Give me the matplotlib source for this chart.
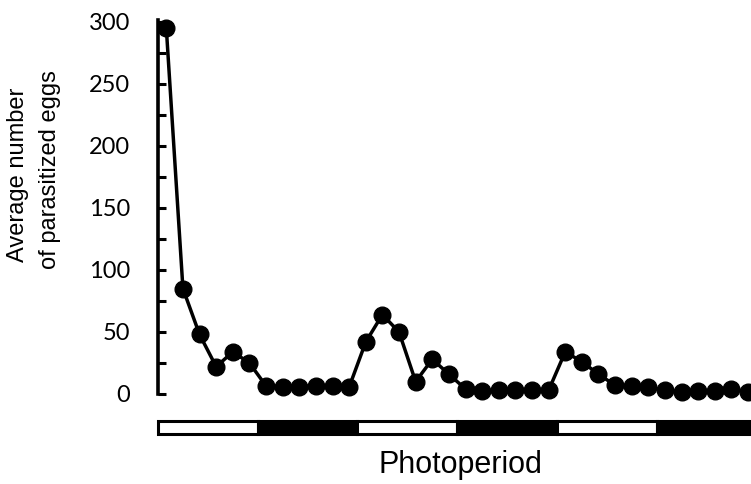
import matplotlib
matplotlib.use("Agg")
import matplotlib.pyplot as plt
from matplotlib.patches import Rectangle
from matplotlib.ticker import MultipleLocator

# Data (2-h sampling intervals)
eggs = [295, 85, 48, 22, 34, 25, 6.5, 6, 6, 6.5, 6.5, 5.6,
        42, 64, 50, 10, 28, 16, 4, 2.5, 3, 3, 3, 3,
        34, 26, 16, 7, 6.5, 5.6, 3, 1.6, 2.4, 2.4, 4, 2]
photoperiod = ["light", "dark", "light", "dark", "light", "dark"]
points_per_phase = 6
y_ticks = [0, 50, 100, 150, 200, 250, 300]

W, H = 751, 484
fig = plt.figure(figsize=(W / 100, H / 100), dpi=100)

x = list(range(len(eggs)))
xmin, xmax = -0.5, len(eggs) - 0.5

# main axes
ax = fig.add_axes([158 / W, (H - 394) / H, (756.4 - 158) / W, (394 - 19.5) / H])
ax.plot(x, eggs, color="black", lw=2.5, marker="o", markersize=12,
        markerfacecolor="black", markeredgecolor="black", clip_on=False, zorder=3)
ax.set_xlim(xmin, xmax)
ax.set_ylim(0, 302)
for s in ["top", "right", "bottom"]:
    ax.spines[s].set_visible(False)
ax.spines["left"].set_linewidth(2.6)
ax.set_xticks([])
ax.set_yticks(y_ticks)
ax.yaxis.set_minor_locator(MultipleLocator(25))
ax.tick_params(axis="y", which="both", direction="in", length=6, width=2.2, pad=20)
for lab in ax.get_yticklabels():
    lab.set_fontfamily("Lato")
    lab.set_fontsize(17)

# photoperiod bar
bx = fig.add_axes([158 / W, (H - 434) / H, (756.4 - 158) / W, 13 / H])
bx.set_xlim(xmin, xmax)
bx.set_ylim(0, 1)
bx.axis("off")
for i, ph in enumerate(photoperiod):
    x0 = xmin + i * points_per_phase
    bx.add_patch(Rectangle((x0, 0), points_per_phase, 1,
                           facecolor="white" if ph == "light" else "black",
                           edgecolor="black", linewidth=2.2, clip_on=False))

fig.text(18 / W, 1 - 175 / H, "Average number", rotation=90, ha="center", va="center",
         fontsize=17, family="Liberation Sans")
fig.text(50 / W, 1 - 170 / H, "of parasitized eggs", rotation=90, ha="center", va="center",
         fontsize=17, family="Liberation Sans")
fig.text(460 / W, 1 - 465 / H, "Photoperiod", ha="center", va="center",
         fontsize=22, family="Liberation Sans")

fig.savefig("out.png", dpi=100)
